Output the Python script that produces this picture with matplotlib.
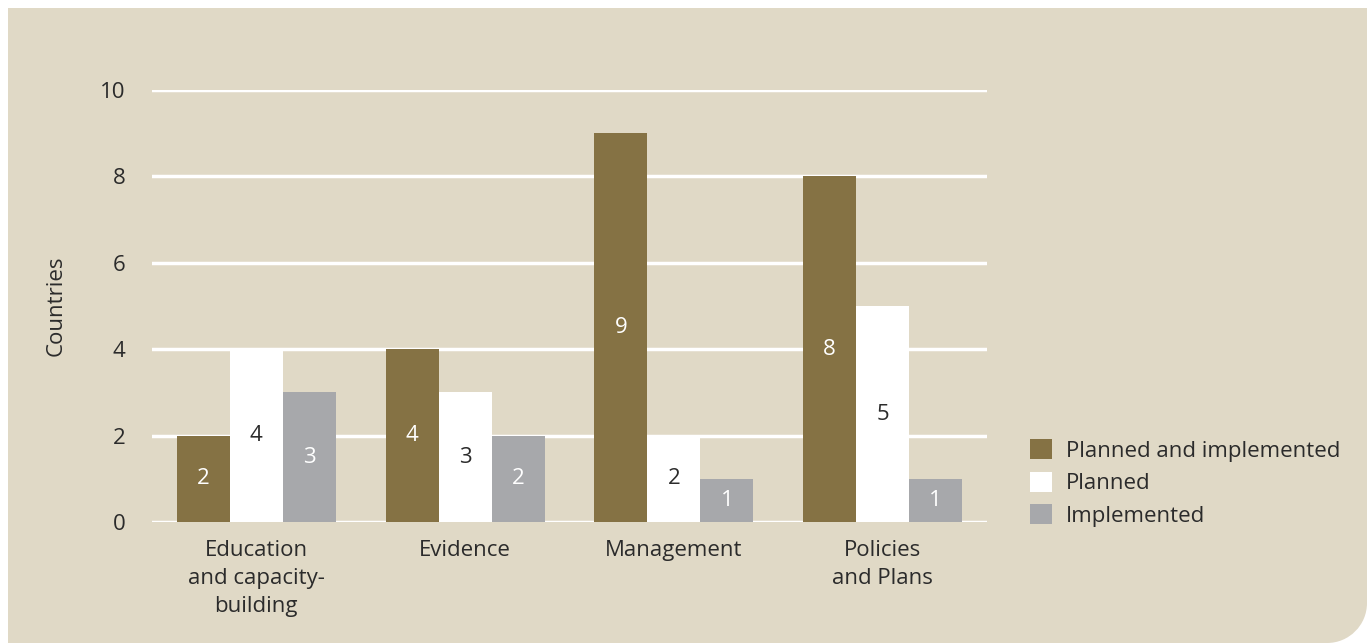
import numpy as np
import matplotlib.pyplot as plt
from matplotlib.path import Path
from matplotlib.patches import PathPatch

plt.rcParams['font.family'] = ['Open Sans', 'DejaVu Sans']

categories = ["Education\nand capacity-\nbuilding", "Evidence", "Management", "Policies\nand Plans"]
series_names = ["Planned and implemented", "Planned", "Implemented"]
planned_impl = [2, 4, 9, 8]
planned = [4, 3, 2, 5]
implemented = [3, 2, 1, 1]

bg = "#e0d9c6"
colors = ["#857244", "#ffffff", "#a7a8ab"]
label_colors = ["white", "#2b2b2b", "white"]
txt = "#2b2b2b"
fs = 16

W, H = 1370, 643
fig = plt.figure(figsize=(13.7, 6.43), dpi=100)
fig.patch.set_facecolor("white")

# beige panel with a rounded bottom-right corner
x0, y0, x1, y1, r = 8 / W, 0.0, 1367 / W, 1 - 8 / H, 40
rx, ry = r / W, r / H
k = 0.5523
verts = [(x0, y1), (x1, y1), (x1, y0 + ry),
         (x1, y0 + ry * (1 - k)), (x1 - rx * (1 - k), y0), (x1 - rx, y0),
         (x0, y0), (x0, y1)]
codes = [Path.MOVETO, Path.LINETO, Path.LINETO,
         Path.CURVE4, Path.CURVE4, Path.CURVE4,
         Path.LINETO, Path.CLOSEPOLY]
fig.patches.append(PathPatch(Path(verts, codes), transform=fig.transFigure,
                             facecolor=bg, edgecolor="none", zorder=-10))

ax = fig.add_axes([152 / W, 1 - 522 / H, (987 - 152) / W, (522 - 90) / H])
ax.set_facecolor("none")
ax.set_zorder(1)

x = np.arange(len(categories))
w = 0.254
data = [planned_impl, planned, implemented]
for i, vals in enumerate(data):
    pos = x + (i - 1) * w
    bars = ax.bar(pos, vals, width=w, color=colors[i], label=series_names[i], zorder=3)
    for b, v in zip(bars, vals):
        ax.text(b.get_x() + b.get_width() / 2, v / 2, str(v), ha="center", va="center",
                color=label_colors[i], fontsize=fs, zorder=4)

ax.set_ylim(0, 10)
ax.set_xlim(-0.5, 3.5)
ax.set_yticks([0, 2, 4, 6, 8, 10])
ax.yaxis.grid(True, color="white", linewidth=2.5, zorder=0)
ax.set_axisbelow(True)
for s in ax.spines.values():
    s.set_visible(False)
ax.tick_params(axis="both", length=0, labelsize=fs, labelcolor=txt)
ax.tick_params(axis="y", pad=19)
ax.tick_params(axis="x", pad=13)
ax.set_xticks(x)
ax.set_xticklabels(categories, linespacing=1.45)
ax.set_ylabel("Countries", fontsize=fs, color=txt, labelpad=24)

leg = ax.legend(loc="center left", bbox_to_anchor=(1.051, 0.09), frameon=False,
                fontsize=fs, handlelength=1.0, handleheight=1.0, handletextpad=0.62,
                labelspacing=0.45, borderpad=0, borderaxespad=0, labelcolor=txt)

fig.savefig("out.png", dpi=100)
